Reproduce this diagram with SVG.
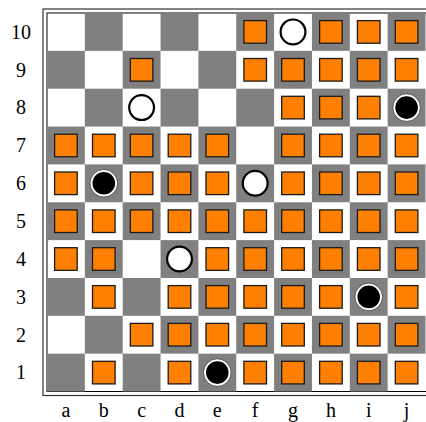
<svg xmlns="http://www.w3.org/2000/svg" xmlns:xlink="http://www.w3.org/1999/xlink" width="426" height="422" viewBox="0 0 426 422">
<style>
.dk{fill:#808080}
.o{fill:#ff8000;stroke:#1a1a1a;stroke-width:1.3}
.w{fill:#ffffff;stroke:#000000;stroke-width:2.2}
.b{fill:#000000;stroke:#ffffff;stroke-width:2.2}
.bo{fill:none;stroke:#444;stroke-width:0.7}
.lbl{font-family:"Liberation Serif","DejaVu Serif",serif;font-size:20px;fill:#000;text-anchor:middle}
</style>
<defs>
<rect id="o" class="o" x="-11.3" y="-11.3" width="22.6" height="22.6"/>
<g id="wm"><circle class="w" r="12.4"/></g>
<g id="bm"><circle class="b" r="12.4"/><circle class="bo" r="13.8"/></g>
</defs>
<rect width="426" height="422" fill="#fff"/>
<g id="board">
<rect x="43" y="9" width="390" height="386.5" fill="none" stroke="#333" stroke-width="1.2"/>
<rect x="47" y="13" width="382" height="378.5" fill="#fff" stroke="#000" stroke-width="1"/>
<!-- row 10 -->
<rect class="dk" x="84.85" y="13" width="37.85" height="37.85"/>
<rect class="dk" x="160.55" y="13" width="37.85" height="37.85"/>
<rect class="dk" x="236.25" y="13" width="37.85" height="37.85"/>
<rect class="dk" x="311.95" y="13" width="37.85" height="37.85"/>
<rect class="dk" x="387.65" y="13" width="37.85" height="37.85"/>
<!-- row 9 -->
<rect class="dk" x="47" y="50.85" width="37.85" height="37.85"/>
<rect class="dk" x="122.7" y="50.85" width="37.85" height="37.85"/>
<rect class="dk" x="198.4" y="50.85" width="37.85" height="37.85"/>
<rect class="dk" x="274.1" y="50.85" width="37.85" height="37.85"/>
<rect class="dk" x="349.8" y="50.85" width="37.85" height="37.85"/>
<!-- row 8 -->
<rect class="dk" x="84.85" y="88.7" width="37.85" height="37.85"/>
<rect class="dk" x="160.55" y="88.7" width="37.85" height="37.85"/>
<rect class="dk" x="236.25" y="88.7" width="37.85" height="37.85"/>
<rect class="dk" x="311.95" y="88.7" width="37.85" height="37.85"/>
<rect class="dk" x="387.65" y="88.7" width="37.85" height="37.85"/>
<!-- row 7 -->
<rect class="dk" x="47" y="126.55" width="37.85" height="37.85"/>
<rect class="dk" x="122.7" y="126.55" width="37.85" height="37.85"/>
<rect class="dk" x="198.4" y="126.55" width="37.85" height="37.85"/>
<rect class="dk" x="274.1" y="126.55" width="37.85" height="37.85"/>
<rect class="dk" x="349.8" y="126.55" width="37.85" height="37.85"/>
<!-- row 6 -->
<rect class="dk" x="84.85" y="164.4" width="37.85" height="37.85"/>
<rect class="dk" x="160.55" y="164.4" width="37.85" height="37.85"/>
<rect class="dk" x="236.25" y="164.4" width="37.85" height="37.85"/>
<rect class="dk" x="311.95" y="164.4" width="37.85" height="37.85"/>
<rect class="dk" x="387.65" y="164.4" width="37.85" height="37.85"/>
<!-- row 5 -->
<rect class="dk" x="47" y="202.25" width="37.85" height="37.85"/>
<rect class="dk" x="122.7" y="202.25" width="37.85" height="37.85"/>
<rect class="dk" x="198.4" y="202.25" width="37.85" height="37.85"/>
<rect class="dk" x="274.1" y="202.25" width="37.85" height="37.85"/>
<rect class="dk" x="349.8" y="202.25" width="37.85" height="37.85"/>
<!-- row 4 -->
<rect class="dk" x="84.85" y="240.1" width="37.85" height="37.85"/>
<rect class="dk" x="160.55" y="240.1" width="37.85" height="37.85"/>
<rect class="dk" x="236.25" y="240.1" width="37.85" height="37.85"/>
<rect class="dk" x="311.95" y="240.1" width="37.85" height="37.85"/>
<rect class="dk" x="387.65" y="240.1" width="37.85" height="37.85"/>
<!-- row 3 -->
<rect class="dk" x="47" y="277.95" width="37.85" height="37.85"/>
<rect class="dk" x="122.7" y="277.95" width="37.85" height="37.85"/>
<rect class="dk" x="198.4" y="277.95" width="37.85" height="37.85"/>
<rect class="dk" x="274.1" y="277.95" width="37.85" height="37.85"/>
<rect class="dk" x="349.8" y="277.95" width="37.85" height="37.85"/>
<!-- row 2 -->
<rect class="dk" x="84.85" y="315.8" width="37.85" height="37.85"/>
<rect class="dk" x="160.55" y="315.8" width="37.85" height="37.85"/>
<rect class="dk" x="236.25" y="315.8" width="37.85" height="37.85"/>
<rect class="dk" x="311.95" y="315.8" width="37.85" height="37.85"/>
<rect class="dk" x="387.65" y="315.8" width="37.85" height="37.85"/>
<!-- row 1 -->
<rect class="dk" x="47" y="353.65" width="37.85" height="37.85"/>
<rect class="dk" x="122.7" y="353.65" width="37.85" height="37.85"/>
<rect class="dk" x="198.4" y="353.65" width="37.85" height="37.85"/>
<rect class="dk" x="274.1" y="353.65" width="37.85" height="37.85"/>
<rect class="dk" x="349.8" y="353.65" width="37.85" height="37.85"/>
</g>
<g id="labels" class="lbl">
<text x="21" y="38.7">10</text>
<text x="21" y="76.6">9</text>
<text x="21" y="114.4">8</text>
<text x="21" y="152.3">7</text>
<text x="21" y="190.1">6</text>
<text x="21" y="228">5</text>
<text x="21" y="265.8">4</text>
<text x="21" y="303.7">3</text>
<text x="21" y="341.5">2</text>
<text x="21" y="379.4">1</text>
<text x="65.9" y="416.5">a</text>
<text x="103.8" y="416.5">b</text>
<text x="141.6" y="416.5">c</text>
<text x="179.5" y="416.5">d</text>
<text x="217.3" y="416.5">e</text>
<text x="255.2" y="416.5">f</text>
<text x="293" y="416.5">g</text>
<text x="330.9" y="416.5">h</text>
<text x="368.7" y="416.5">i</text>
<text x="406.6" y="416.5">j</text>
</g>
<g id="pieces">
<g id="row10">
<use href="#o" x="255.2" y="31.9"/><use href="#wm" x="293" y="31.9"/><use href="#o" x="330.9" y="31.9"/><use href="#o" x="368.7" y="31.9"/><use href="#o" x="406.6" y="31.9"/>
</g>
<g id="row9">
<use href="#o" x="141.6" y="69.8"/><use href="#o" x="255.2" y="69.8"/><use href="#o" x="293" y="69.8"/><use href="#o" x="330.9" y="69.8"/><use href="#o" x="368.7" y="69.8"/><use href="#o" x="406.6" y="69.8"/>
</g>
<g id="row8">
<use href="#wm" x="141.6" y="107.6"/><use href="#o" x="293" y="107.6"/><use href="#o" x="330.9" y="107.6"/><use href="#o" x="368.7" y="107.6"/><use href="#bm" x="406.6" y="107.6"/>
</g>
<g id="row7">
<use href="#o" x="65.9" y="145.5"/><use href="#o" x="103.8" y="145.5"/><use href="#o" x="141.6" y="145.5"/><use href="#o" x="179.5" y="145.5"/><use href="#o" x="217.3" y="145.5"/><use href="#o" x="293" y="145.5"/><use href="#o" x="330.9" y="145.5"/><use href="#o" x="368.7" y="145.5"/><use href="#o" x="406.6" y="145.5"/>
</g>
<g id="row6">
<use href="#o" x="65.9" y="183.3"/><use href="#bm" x="103.8" y="183.3"/><use href="#o" x="141.6" y="183.3"/><use href="#o" x="179.5" y="183.3"/><use href="#o" x="217.3" y="183.3"/><use href="#wm" x="255.2" y="183.3"/><use href="#o" x="293" y="183.3"/><use href="#o" x="330.9" y="183.3"/><use href="#o" x="368.7" y="183.3"/><use href="#o" x="406.6" y="183.3"/>
</g>
<g id="row5">
<use href="#o" x="65.9" y="221.2"/><use href="#o" x="103.8" y="221.2"/><use href="#o" x="141.6" y="221.2"/><use href="#o" x="179.5" y="221.2"/><use href="#o" x="217.3" y="221.2"/><use href="#o" x="255.2" y="221.2"/><use href="#o" x="293" y="221.2"/><use href="#o" x="330.9" y="221.2"/><use href="#o" x="368.7" y="221.2"/><use href="#o" x="406.6" y="221.2"/>
</g>
<g id="row4">
<use href="#o" x="65.9" y="259"/><use href="#o" x="103.8" y="259"/><use href="#wm" x="179.5" y="259"/><use href="#o" x="217.3" y="259"/><use href="#o" x="255.2" y="259"/><use href="#o" x="293" y="259"/><use href="#o" x="330.9" y="259"/><use href="#o" x="368.7" y="259"/><use href="#o" x="406.6" y="259"/>
</g>
<g id="row3">
<use href="#o" x="103.8" y="296.9"/><use href="#o" x="179.5" y="296.9"/><use href="#o" x="217.3" y="296.9"/><use href="#o" x="255.2" y="296.9"/><use href="#o" x="293" y="296.9"/><use href="#o" x="330.9" y="296.9"/><use href="#bm" x="368.7" y="296.9"/><use href="#o" x="406.6" y="296.9"/>
</g>
<g id="row2">
<use href="#o" x="141.6" y="334.7"/><use href="#o" x="179.5" y="334.7"/><use href="#o" x="217.3" y="334.7"/><use href="#o" x="255.2" y="334.7"/><use href="#o" x="293" y="334.7"/><use href="#o" x="330.9" y="334.7"/><use href="#o" x="368.7" y="334.7"/><use href="#o" x="406.6" y="334.7"/>
</g>
<g id="row1">
<use href="#o" x="103.8" y="372.6"/><use href="#o" x="179.5" y="372.6"/><use href="#bm" x="217.3" y="372.6"/><use href="#o" x="255.2" y="372.6"/><use href="#o" x="293" y="372.6"/><use href="#o" x="330.9" y="372.6"/><use href="#o" x="368.7" y="372.6"/><use href="#o" x="406.6" y="372.6"/>
</g>
</g>
</svg>
